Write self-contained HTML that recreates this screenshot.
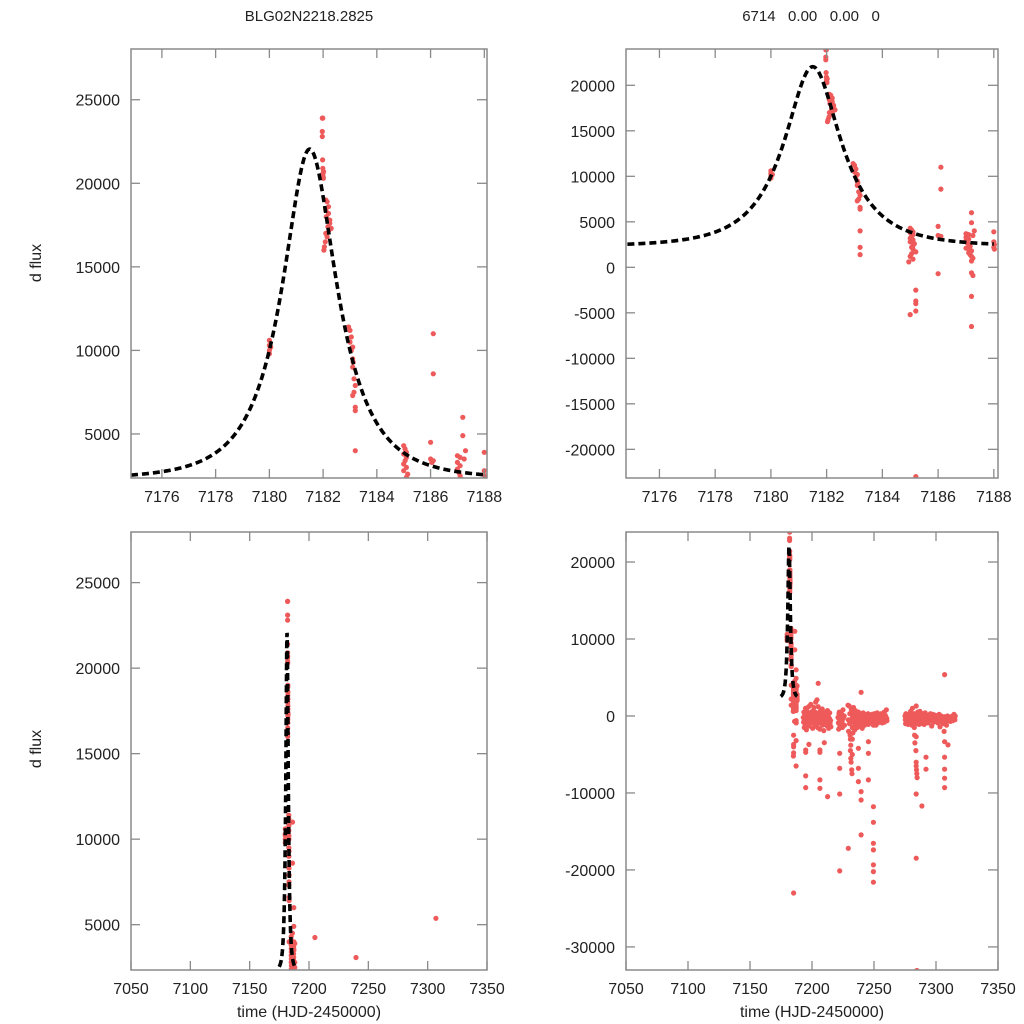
<!DOCTYPE html>
<html><head><meta charset="utf-8"><style>
html,body{margin:0;padding:0;background:#fff;width:1024px;height:1024px;overflow:hidden;}
svg{display:block;font-family:"Liberation Sans",sans-serif;}
</style></head><body>
<svg id="chart" width="1024" height="1024" viewBox="0 0 1024 1024">
<rect width="1024" height="1024" fill="#fff"/>
<text x="309" y="21" font-size="15" text-anchor="middle" fill="#222">BLG02N2218.2825</text>
<text x="811" y="21" font-size="15" text-anchor="middle" fill="#222" xml:space="preserve">6714   0.00   0.00   0</text>
<text transform="translate(41,263) rotate(-90)" font-size="16" text-anchor="middle" fill="#222">d flux</text>
<text transform="translate(41,749) rotate(-90)" font-size="16" text-anchor="middle" fill="#222">d flux</text>
<text x="309" y="1017" font-size="16" text-anchor="middle" fill="#222">time (HJD-2450000)</text>
<text x="812" y="1017" font-size="16" text-anchor="middle" fill="#222">time (HJD-2450000)</text>
</svg>
<script>
// ---- data ----
const peakTimes = [7180.0,7180.0,7180.0,7180.0,7180.05,
 7181.97,7181.99,7181.97,7181.97,7181.98,7181.99,7182.0,7182.0,7182.01,7182.02,
 7182.1,7182.15,7182.2,7182.1,7182.12,7182.25,7182.18,7182.22,7182.1,7182.15,7182.08,7182.05,7182.03,7182.2,7182.25,7182.3,
 7182.95,7183.0,7183.05,7183.0,7183.1,7183.05,7183.1,7183.12,7183.1,7183.15,7183.2,7183.15,7183.1,7183.2,7183.2,7183.2,7183.2,7183.2,
 7185.0,7185.05,7185.1,7185.0,7185.1,7185.05,7185.0,7185.1,7185.0,7185.15,7185.1,7185.05,7185.1,7185.2,7185.05,7185.0,7185.1,7184.95,7185.2,7185.2,7185.2,7185.0,7185.2,7185.2,
 7186.0,7186.0,7186.05,7186.0,7186.1,7186.1,7186.1,
 7187.0,7187.1,7187.0,7187.1,7187.0,7187.05,7187.1,7187.15,7187.0,7187.1,7187.2,7187.1,7187.15,7187.2,7187.25,7187.2,7187.2,7187.25,7187.2,7187.2,7187.2,7187.2,7187.3,7187.25,
 7188.0,7188.0,7188.02,7188.0,7188.02];
const peakFlux = [10600,10300,10000,9800,10200,
 23900,23900,23100,22800,21400,20900,20600,20400,20300,20700,
 19000,18900,18600,18400,18000,17800,17400,17200,17000,16800,16500,16200,16000,18200,17600,17300,
 11400,11200,10800,10500,10200,10000,9500,9300,9000,8300,7900,7500,7300,6600,6400,4000,2200,1400,
 4300,4100,3900,3800,3600,3400,3200,3000,2800,2600,2400,2200,2000,1700,1500,1200,900,600,-2500,-3700,-4000,-5200,-4800,-23000,
 4500,3500,3300,-700,11000,8600,3400,
 3700,3600,3300,3100,2900,2700,2500,2300,2100,2000,1800,1600,1400,1200,1000,700,-600,-900,-3200,-6500,6000,4900,4000,3500,
 3900,2800,2500,2200,2000];
const outTimes = [7194.9,7194.9,7194.9,7194.9,7197.5,7205,7206.4,7206.4,7206.4,7206.4,7209.9,7212.6,7222.3,7222.3,7222.3,7222.3,7229.3,7232.5,7232.5,7237.4,7237.4,7237.4,7239.6,7239.6,7239.6,7239.6,7245.5,7245.5,7245.5,7249.5,7249.5,7249.5,7249.5,7249.5,7249.5,7249.5,7249.5,7284,7284,7284,7284.6,7284,7288.6,7291.9,7291.9,7306.9,7306.9,7306.9,7306.9,7306.9,7306.9,7309.7];
const outFlux = [-4420,-4720,-7790,-9310,-3690,4250,-4420,-4720,-8310,-9390,-3470,-10480,-4850,-6800,-10130,-20130,-17190,-3000,-5000,-4200,-6800,-8530,-15450,-9830,-10910,3080,-3340,-4850,-8310,-11780,-13810,-16540,-17400,-19350,-20220,-21600,-1200,-2690,-10130,-18480,-33070,-6500,-11690,-5360,-6920,5370,-3340,-5360,-6920,-8090,-9310,-3760];
const bandDays = [7193,7194,7195,7196,7197,7198,7199,7200,7201,7202,7203,7204,7205,7206,7207,7208,7209,7210,7211,7212,7213,7214,7215,
 7221,7222,7223,7224,7225,7226,
 7229,7230,7231,7232,7233,7234,7235,7236,7237,7238,7239,7240,7241,7242,7243,7244,7245,7246,7247,7248,7249,7250,7251,7252,7253,7254,7255,7256,7257,7258,7259,7260,
 7275,7276,7277,7278,7279,7280,7281,7282,7283,7284,7285,7286,7287,7288,7289,7290,7291,7292,7293,7294,7295,7296,7297,7298,7299,7300,7301,7302,7303,7304,7305,7306,7307,7308,7309,7310,7311,7312,7313,7314,7315];
const bandVals = [[-200,-800,500,-1500],[300,-400,-1100,1000],[0,-600,-1800,700],[200,-900,-300],[-500,1200,-1300],[400,-200,-1000],[1500,-700,100],[-400,600,-1600],[200,-900,1100],[-300,-1200,500],[1800,-600,0],[2100,-400,-1500],[1200,-900,300],[-100,-1700,600],[400,-800,-300],[-600,900,-1200],[100,-400,-1900],[-700,500,-1100],[300,-900,-200],[-500,-1300,700],[0,-800,-1600],[-300,400,-1000],[-600,-1400],
 [-200,-900,-1700,300],[500,-500,-1300],[-100,-1000],[200,-700,-1500],[800,-300],[0,-1200],
 [1400,-500,-2000],[1300,-1000,300,-2500,-3000,-3800],[-4500,-5500,-6000,800,-400],[-7000,-7500,-1500,0],[-2200,-600,1100,500],[-900,200,-1800],[700,-300,-1200],[-600,300,-1500],[-100,-900,500],[-400,-1300,200],[-700,100,-1000],[0,-500,-1600],[-300,400,-800],[-600,-100,-1200],[200,-400,-900],[-200,-700,100],[-500,300,-1100],[-100,-600,-300],[-400,100,-800],[-700,-200,200],[0,-500,-1000],[-300,300,-700],[-600,0,-1200],[-100,-400,400],[-500,-900,0],[200,-300,-700],[-200,-600,300],[-400,100,-900],[0,-300,-600],[-200,500,-800],[100,-400,-100],[800,-300,-600],
 [0,-500,-1000,300],[-300,-800,200],[-600,0,-1100],[200,-400,-900],[-100,-700,600],[-500,200,-1200],[1000,-300,-800],[-200,300,-1500,-2500,-3500],[-600,0,-1000,-4500,-6000,-7000,-7500],[1300,-400,-900,-8000],[-100,500,-700],[-300,-1100,200],[600,-500,-1000],[-200,-800,100],[-500,300,-600],[0,-400,-1100],[-200,400,-800],[-600,-100,-300],[100,-500,-900],[-300,-700,-100],[-100,-400,300],[-600,-200,-1300],[0,-500,200],[-300,-800,-100],[-500,100,-700],[-200,-400,0],[-600,-300,-900],[-100,-500,200],[-400,-1400,-200],[-300,0,-700],[-500,-100,-900],[-200,-1000,-2000],[-400,-100,-600],[-700,-200,-1200],[-300,0,-500],[-100,-600,-400],[-400,-200,-700],[-200,-500,-100],[-300,0,-600],[-100,-400,200],[-200,-500,0]];
// PSPL model parameters: t0, u0, tE, source flux, baseline
const modelParams = [7181.5, 0.5, 2.14, 16695, 2300];
const modelRange = [7174.85, 7188.0];
const xTicksZoom = [7176,7178,7180,7182,7184,7186,7188];
const xTicksWide = [7050,7100,7150,7200,7250,7300,7350];
const yTicksTL = [5000,10000,15000,20000,25000];
const yTicksTR = [-20000,-15000,-10000,-5000,0,5000,10000,15000,20000];
const yTicksBR = [-30000,-20000,-10000,0,10000,20000];

// ---- layout ----
const panels = [
 {name:'top-left', L:131,R:487,T:49,B:478, x0:7174.85,x1:7188.1, y0:2365,y1:28036, xt:xTicksZoom, yt:yTicksTL},
 {name:'top-right',L:626,R:998,T:49,B:478, x0:7174.8,x1:7188.15, y0:-23150,y1:23990, xt:xTicksZoom, yt:yTicksTR},
 {name:'bottom-left',L:131,R:487,T:532,B:970, x0:7050,x1:7350, y0:2350,y1:27960, xt:xTicksWide, yt:yTicksTL},
 {name:'bottom-right',L:626,R:998,T:532,B:970, x0:7050,x1:7350, y0:-33000,y1:23900, xt:xTicksWide, yt:yTicksBR}
];
const NS='http://www.w3.org/2000/svg';
const svg=document.getElementById('chart');
function mk(tag,attrs,parent){const e=document.createElementNS(NS,tag);for(const k in attrs)e.setAttribute(k,attrs[k]);(parent||svg).appendChild(e);return e;}
function modelFlux(t){const [t0,u0,tE,fs,fb]=modelParams;const tau=(t-t0)/tE;const u=Math.sqrt(u0*u0+tau*tau);const A=(u*u+2)/(u*Math.sqrt(u*u+4));return fb+fs*(A-1);}
const allT=[],allF=[];
peakTimes.forEach((t,i)=>{allT.push(t);allF.push(peakFlux[i]);});
outTimes.forEach((t,i)=>{allT.push(t);allF.push(outFlux[i]);});
bandDays.forEach((d,i)=>{bandVals[i].forEach((v,j)=>{allT.push(d+j*0.25);allF.push(v);});});

panels.forEach((p,pi)=>{
 const sx=v=>p.L+(v-p.x0)/(p.x1-p.x0)*(p.R-p.L);
 const sy=v=>p.B-(v-p.y0)/(p.y1-p.y0)*(p.B-p.T);
 const g=mk('g',{});
 
 
 const cp=mk('clipPath',{id:'clip'+pi},g);
 mk('rect',{x:p.L,y:p.T,width:p.R-p.L,height:p.B-p.T},cp);
 const pts=mk('g',{'clip-path':'url(#clip'+pi+')',fill:'#ee5a5a'},g);
 
 
 allT.forEach((t,i)=>{
  const c=mk('circle',{cx:sx(t).toFixed(1),cy:sy(allF[i]).toFixed(1),r:2.6},pts);
  
  
 });
 let d='';
 for(let k=0;k<=400;k++){const t=modelRange[0]+(modelRange[1]-modelRange[0])*k/400;d+=(k?'L':'M')+sx(t).toFixed(2)+','+sy(modelFlux(t)).toFixed(2);}
 const ml=mk('path',{d:d,fill:'none',stroke:'#000','stroke-width':3.6,'stroke-dasharray':'7,4','clip-path':'url(#clip'+pi+')'},g);
 
 
 const fr=mk('rect',{x:p.L,y:p.T,width:p.R-p.L,height:p.B-p.T,fill:'none',stroke:'#8a8a8a','stroke-width':1.5},g);
 
 
 p.xt.forEach(v=>{
  const x=sx(v);
  mk('line',{x1:x,x2:x,y1:p.B,y2:p.B-9,stroke:'#8a8a8a','stroke-width':1.3},g);
  mk('line',{x1:x,x2:x,y1:p.T,y2:p.T+9,stroke:'#8a8a8a','stroke-width':1.3},g);
  const tl=mk('text',{x:x,y:p.B+24,'font-size':16,'text-anchor':'middle',fill:'#222'},g);
  tl.textContent=v;
  
  
 });
 p.yt.forEach(v=>{
  const y=sy(v);
  mk('line',{x1:p.L,x2:p.L+9,y1:y,y2:y,stroke:'#8a8a8a','stroke-width':1.3},g);
  mk('line',{x1:p.R,x2:p.R-10,y1:y,y2:y,stroke:'#8a8a8a','stroke-width':1.3},g);
  const tl=mk('text',{x:p.L-11,y:y+6,'font-size':16,'text-anchor':'end',fill:'#222'},g);
  tl.textContent=v;
  
  
 });
});
</script>
</body></html>
